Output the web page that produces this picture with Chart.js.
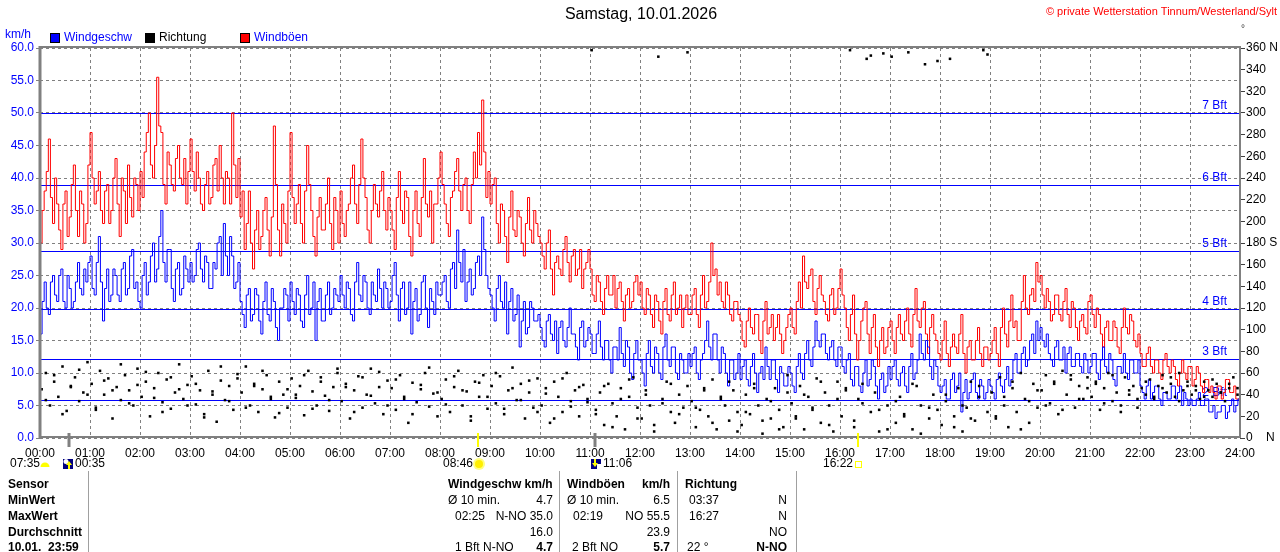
<!DOCTYPE html>
<html>
<head>
<meta charset="utf-8">
<title>Wind 10.01.2026</title>
<script src="https://cdn.jsdelivr.net/npm/chart.js@4.4.1/dist/chart.umd.min.js"></script>
<style>
    html, body { margin: 0; padding: 0; background: #fff; }
    canvas { display: block; }
</style>
</head>
<body>
<canvas id="windChart" width="1280" height="552"></canvas>
<script>
const FONT = '"Liberation Sans", Arial, sans-serif';

// one value every 5 minutes, 00:00 .. 24:00 (km/h)
const stepMinutes = 5;

const windSpeed = [
    16, 24, 19, 25, 21, 26, 20, 23, 21, 27, 22, 24,
    28, 22, 31, 18, 26, 22, 25, 21, 27, 23, 29, 24,
    20, 27, 24, 30, 26, 35, 24, 29, 21, 27, 23, 26,
    27, 25, 30, 24, 27, 23, 26, 31, 33, 25, 28, 24,
    21, 17, 23, 19, 22, 16, 24, 18, 21, 15, 20, 22,
    24, 19, 22, 17, 25, 20, 15, 23, 18, 24, 20, 22,
    25, 20, 23, 18, 27, 21, 24, 19, 22, 26, 20, 23,
    21, 27, 18, 24, 20, 16, 23, 19, 25, 17, 21, 24,
    22, 25, 20, 27, 32, 24, 21, 26, 23, 28, 34, 25,
    22, 18, 25, 20, 16, 23, 19, 14, 21, 17, 20, 18,
    17, 14, 19, 15, 13, 18, 14, 20, 16, 12, 18, 15,
    16, 13, 18, 12, 15, 10, 14, 17, 11, 14, 9, 15,
    12, 8, 15, 10, 13, 9, 16, 11, 14, 9, 12, 10,
    11, 14, 9, 13, 18, 12, 16, 10, 13, 8, 12, 10,
    9, 12, 8, 13, 7, 11, 14, 9, 12, 7, 10, 8,
    10, 7, 13, 9, 15, 11, 18, 14, 16, 12, 15, 11,
    14, 10, 13, 8, 11, 7, 12, 9, 11, 6, 10, 8,
    9, 12, 8, 11, 7, 13, 10, 16, 12, 14, 9, 11,
    7, 9, 6, 10, 8, 4, 9, 7, 10, 6, 8, 7,
    8, 6, 10, 7, 11, 9, 13, 10, 14, 12, 16, 18,
    17, 14, 13, 11, 15, 12, 10, 14, 11, 13, 10, 12,
    11, 13, 9, 14, 10, 12, 8, 11, 13, 9, 12, 10,
    8, 6, 9, 7, 8, 5, 7, 6, 8, 7, 5, 6,
    6, 5, 7, 5, 6, 4, 3, 4, 5, 4, 6, 5,
    4
];

// in-between readings, 2.5 minutes after each value above
const windSpeedMid = [
    21, 20, 24, 22, 25, 21, 25, 20, 24, 23, 26, 27,
    23, 27, 24, 23, 21, 26, 22, 26, 22, 28, 23, 21,
    25, 22, 28, 24, 31, 27, 29, 23, 26, 22, 28, 24,
    24, 29, 26, 28, 23, 27, 30, 25, 28, 31, 23, 27,
    19, 22, 18, 23, 18, 21, 19, 23, 17, 20, 23, 18,
    21, 23, 18, 22, 19, 24, 21, 18, 22, 19, 23, 21,
    22, 24, 19, 24, 22, 25, 20, 24, 21, 23, 24, 20,
    25, 22, 23, 19, 24, 21, 18, 24, 20, 23, 19, 22,
    24, 21, 26, 23, 27, 29, 24, 22, 27, 25, 29, 23,
    20, 23, 21, 24, 21, 18, 22, 18, 16, 21, 18, 19,
    15, 18, 16, 18, 17, 15, 17, 16, 14, 17, 14, 17,
    13, 16, 14, 15, 12, 14, 12, 13, 15, 10, 13, 12,
    10, 13, 11, 14, 10, 14, 12, 14, 10, 13, 10, 13,
    13, 10, 12, 15, 14, 16, 12, 14, 10, 12, 9, 13,
    11, 9, 11, 10, 10, 9, 11, 12, 9, 11, 8, 11,
    8, 11, 10, 13, 12, 14, 15, 16, 13, 14, 12, 14,
    11, 12, 9, 11, 8, 10, 8, 12, 8, 9, 7, 11,
    11, 9, 10, 8, 11, 9, 12, 13, 15, 11, 12, 8,
    8, 6, 9, 7, 10, 7, 6, 9, 7, 9, 6, 9,
    7, 9, 8, 9, 8, 12, 10, 13, 11, 15, 13, 15,
    15, 16, 12, 14, 12, 14, 13, 11, 13, 11, 13, 10,
    13, 10, 12, 11, 13, 9, 11, 10, 10, 12, 10, 12,
    7, 8, 6, 8, 6, 7, 6, 8, 6, 8, 7, 5,
    5, 6, 5, 6, 4, 5, 4, 5, 3, 5, 4, 6
];

const windGusts = [
    30, 38, 46, 33, 36, 29, 38, 34, 42, 31, 36, 33,
    47, 36, 41, 33, 39, 35, 43, 31, 38, 42, 34, 39,
    41, 44, 50, 40, 55.5, 47, 36, 42, 38, 45, 39, 36,
    46, 38, 40, 35, 41, 37, 43, 45, 36, 40, 50, 37,
    34, 29, 38, 26, 35, 31, 37, 28, 48, 32, 36, 30,
    47, 33, 39, 30, 45, 35, 28, 37, 32, 40, 29, 35,
    38, 31, 36, 42, 33, 46, 37, 30, 39, 34, 41, 32,
    35, 29, 41, 33, 37, 28, 38, 31, 43, 34, 30, 36,
    44, 36, 31, 38, 43, 35, 40, 33, 44, 47, 52, 37,
    36, 40, 30, 35, 27, 38, 31, 34, 28, 37, 30, 33,
    30, 26, 32, 22, 28, 25, 31, 24, 29, 26, 23, 27,
    26, 21, 24, 19, 25, 22, 20, 24, 18, 23, 21, 25,
    24, 19, 22, 17, 21, 16, 23, 18, 24, 20, 17, 22,
    19, 23, 17, 25, 21, 30, 26, 24, 20, 22, 18, 21,
    18, 14, 20, 16, 19, 13, 21, 17, 15, 19, 13, 17,
    20, 16, 24, 28, 23, 26, 19, 25, 21, 18, 23, 20,
    26, 20, 15, 22, 12, 18, 21, 13, 19, 11, 17, 14,
    18, 13, 19, 15, 20, 14, 23, 17, 21, 13, 19, 15,
    12, 18, 11, 16, 13, 19, 10, 15, 12, 17, 11, 14,
    13, 17, 11, 20, 14, 22, 18, 15, 25, 19, 23, 27,
    25, 20, 21, 19, 22, 18, 23, 17, 20, 15, 19, 16,
    22, 17, 19, 14, 18, 15, 17, 13, 20, 16, 18, 14,
    13, 11, 14, 10, 12, 9, 13, 10, 11, 8, 12, 9,
    11, 9, 10, 7, 9, 8, 6, 8, 7, 9, 7, 6,
    5
];

const windGustsMid = [
    35, 41, 37, 40, 32, 36, 31, 39, 35, 38, 30, 42,
    40, 38, 35, 38, 33, 40, 36, 40, 33, 37, 40, 35,
    37, 47, 42, 45, 48, 39, 44, 39, 43, 40, 43, 41,
    41, 44, 36, 39, 36, 42, 38, 40, 41, 36, 42, 43,
    38, 33, 30, 32, 29, 35, 32, 34, 39, 28, 33, 38,
    37, 36, 33, 38, 39, 31, 34, 32, 36, 33, 37, 30,
    33, 35, 40, 36, 39, 40, 32, 35, 36, 38, 35, 37,
    32, 37, 35, 38, 31, 35, 33, 37, 36, 38, 36, 40,
    39, 33, 37, 41, 38, 39, 35, 39, 40, 42, 44, 41,
    39, 33, 36, 31, 34, 32, 35, 30, 33, 32, 35, 31,
    28, 30, 26, 27, 26, 29, 27, 28, 25, 29, 26, 29,
    22, 25, 21, 23, 22, 25, 23, 21, 22, 20, 24, 22,
    20, 23, 19, 22, 18, 21, 19, 22, 19, 22, 20, 19,
    22, 19, 22, 20, 24, 25, 22, 21, 24, 19, 21, 19,
    15, 18, 17, 19, 15, 18, 16, 19, 17, 16, 15, 19,
    17, 21, 20, 24, 25, 21, 23, 22, 19, 22, 19, 23,
    22, 17, 19, 16, 15, 20, 16, 17, 14, 15, 13, 17,
    15, 17, 16, 18, 16, 19, 18, 20, 16, 17, 16, 13,
    15, 13, 14, 14, 16, 13, 14, 12, 15, 13, 14, 12,
    15, 13, 17, 16, 18, 17, 15, 21, 20, 22, 21, 24,
    22, 23, 18, 22, 19, 21, 19, 21, 17, 18, 17, 21,
    19, 20, 16, 17, 15, 18, 14, 17, 17, 19, 15, 16,
    11, 13, 11, 12, 10, 12, 11, 12, 9, 10, 10, 11,
    8, 11, 8, 9, 7, 7, 8, 6, 9, 7, 8, 6
];

// degrees, one dot every 5 minutes (from 00:02)
const windDirection = [
    45, 60, 30, 52, 38, 66, 25, 48, 56, 34, 42, 70,
    50, 28, 62, 40, 55, 18, 47, 35, 58, 44, 30, 64,
    38, 52, 20, 46, 60, 33, 54, 27, 42, 68, 36, 49,
    57, 31, 44, 22, 62, 40, 15, 53, 35, 48, 26, 59,
    42, 66, 30, 50, 24, 45, 58, 36, 19, 52, 40, 28,
    55, 37, 48, 21, 62, 43, 30, 56, 39, 25, 47, 60,
    34, 50, 18, 44, 57, 28, 40, 64, 32, 47, 22, 53,
    46, 26, 58, 38, 14, 51, 33, 45, 60, 29, 41, 20,
    36, 54, 24, 47, 62, 30, 43, 16, 52, 38, 58, 27,
    48, 32, 57, 22, 44, 65, 35, 50, 18, 42, 28, 55,
    30, 46, 14, 52, 38, 24, 60, 34, 44, 20, 49, 36,
    358, 26, 42, 12, 50, 32, 20, 46, 8, 38, 56, 28,
    18, 44, 30, 6, 352, 36, 52, 24, 14, 40, 28, 48,
    34, 10, 26, 46, 20, 54, 8, 38, 30, 16, 44, 24,
    12, 40, 22, 50, 30, 4, 36, 18, 46, 26, 10, 58,
    32, 20, 48, 8, 38, 26, 55, 14, 42, 30, 6, 52,
    20, 44, 358, 10, 36, 50, 350, 24, 42, 6, 355, 30,
    352, 14, 38, 22, 356, 8, 48, 30, 345, 18, 40, 26,
    12, 34, 350, 20, 46, 6, 28, 52, 16, 38, 358, 24,
    42, 18, 56, 30, 10, 46, 24, 60, 36, 14, 50, 28,
    44, 58, 32, 50, 22, 62, 40, 54, 28, 48, 36, 56,
    38, 52, 26, 46, 60, 34, 42, 30, 56, 40, 48, 28,
    46, 40, 54, 36, 48, 58, 42, 50, 38, 60, 44, 52,
    40, 48, 36, 52, 44, 38, 50, 42, 34, 46, 56, 40
];

// degrees, one more dot every 10 minutes (from 00:07)
const windDirectionExtra = [
    35, 58, 22, 47, 63, 40,
    26, 53, 44, 68, 32, 49,
    61, 37, 24, 56, 45, 30,
    50, 19, 43, 66, 34, 55,
    28, 48, 62, 38, 23, 45,
    40, 58, 27, 52, 35, 64,
    47, 24, 56, 39, 61, 30,
    54, 36, 22, 49, 65, 42,
    31, 57, 44, 20, 51, 38,
    60, 27, 46, 35, 53, 24,
    41, 18, 55, 29, 47, 33,
    22, 48, 10, 36, 54, 18,
    40, 12, 32, 50, 22, 356,
    28, 44, 14, 36, 52, 6,
    24, 46, 16, 34, 8, 42,
    18, 40, 28, 52, 12, 36,
    46, 16, 32, 353, 26, 8,
    34, 20, 50, 4, 28, 348,
    40, 10, 30, 18, 48, 354,
    20, 38, 52, 8, 34, 44,
    30, 52, 26, 58, 36, 46,
    50, 32, 58, 24, 44, 36,
    52, 38, 46, 56, 34, 48,
    44, 38, 54, 42, 50, 46
];

// Beaufort limits in km/h
const bftLevels = [5.8, 12.2, 19.8, 28.8, 38.9, 50.0];
const bftLabels = ['2 Bft', '3 Bft', '4 Bft', '5 Bft', '6 Bft', '7 Bft'];

const dirTickNames = {360: '360 N', 180: '180 S', 0: '0    N'};

// sun / moon events in minutes after midnight
const moonRise = 35;     // 00:35
const sunRise = 526;     // 08:46
const moonSet = 666;     // 11:06
const sunSet = 982;      // 16:22

const tableRows = ['Sensor', 'MinWert', 'MaxWert', 'Durchschnitt', '10.01.  23:59'];

function padTo2Digits(num) {
    return num.toString().padStart(2, '0');
}

function toPoints(values, step, offset) {
    return values.map((v, i) => ({x: i * step + offset, y: v}));
}

// merge the full readings with the in-between readings, sorted by time
function mergeSeries(main, mid) {
    const pts = toPoints(main, stepMinutes, 0).concat(toPoints(mid, stepMinutes, stepMinutes / 2));
    return pts.sort((a, b) => a.x - b.x);
}

const decorPlugin = {
    id: 'decor',
    beforeDatasetsDraw(chart) {
        const ctx = chart.ctx;
        const a = chart.chartArea;
        const y = chart.scales.y;
        ctx.save();
        ctx.strokeStyle = '#0000ff';
        ctx.fillStyle = '#0000ff';
        ctx.lineWidth = 1;
        ctx.font = '12px ' + FONT;
        ctx.textAlign = 'right';
        ctx.textBaseline = 'bottom';
        bftLevels.forEach((v, i) => {
            const py = Math.round(y.getPixelForValue(v)) + 0.5;
            ctx.beginPath();
            ctx.moveTo(a.left, py);
            ctx.lineTo(a.right, py);
            ctx.stroke();
            ctx.fillText(bftLabels[i], a.right - 13, py - 2);
        });
        ctx.restore();
    },
    afterDraw(chart) {
        const ctx = chart.ctx;
        const a = chart.chartArea;
        const x = chart.scales.x;
        ctx.save();

        // frame
        ctx.strokeStyle = '#808080';
        ctx.lineWidth = 2;
        ctx.strokeRect(a.left, a.top - 1, a.right - a.left, a.bottom - a.top);
        ctx.lineWidth = 3;
        ctx.beginPath();
        ctx.moveTo(a.left, a.top - 2);
        ctx.lineTo(a.left, a.bottom);
        ctx.stroke();

        // title + copyright
        ctx.textBaseline = 'middle';
        ctx.fillStyle = '#000';
        ctx.font = '16px ' + FONT;
        ctx.textAlign = 'center';
        ctx.fillText('Samstag, 10.01.2026', 641, 15);
        ctx.fillStyle = '#ff0000';
        ctx.font = '11px ' + FONT;
        ctx.textAlign = 'right';
        ctx.fillText('\u00a9 private Wetterstation Tinnum/Westerland/Sylt', 1277, 12);
        ctx.fillStyle = '#404040';
        ctx.font = '10px ' + FONT;
        ctx.textAlign = 'left';
        ctx.fillText('\u00b0', 1241, 29);

        // legend
        ctx.font = '12px ' + FONT;
        ctx.fillStyle = '#0000ff';
        ctx.fillText('km/h', 5, 35);
        const legend = [
            [50, '#0000ff', 'Windgeschw', '#0000ff'],
            [145, '#000000', 'Richtung', '#000000'],
            [240, '#ff0000', 'Windb\u00f6en', '#0000ff']
        ];
        legend.forEach(l => {
            ctx.fillStyle = l[1];
            ctx.fillRect(l[0], 33, 10, 10);
            ctx.strokeStyle = '#000';
            ctx.lineWidth = 1;
            ctx.strokeRect(l[0] + 0.5, 33.5, 9, 9);
            ctx.fillStyle = l[3];
            ctx.fillText(l[2], l[0] + 14, 38);
        });

        // sun / moon ticks on the time axis
        const marks = [[moonRise, '#808080'], [sunRise, '#ffff00'], [moonSet, '#808080'], [sunSet, '#ffff00']];
        marks.forEach(m => {
            const px = Math.round(x.getPixelForValue(m[0]));
            ctx.strokeStyle = m[1];
            ctx.lineWidth = m[1] === '#808080' ? 3 : 2;
            ctx.beginPath();
            ctx.moveTo(px, 433);
            ctx.lineTo(px, 447);
            ctx.stroke();
        });

        ctx.font = '12px ' + FONT;
        ctx.fillStyle = '#000';
        ctx.textAlign = 'left';
        ctx.fillText('07:35', 10, 464);
        // small yellow half sun
        ctx.fillStyle = '#ffff00';
        ctx.beginPath();
        ctx.arc(45, 467, 4.5, Math.PI, 0);
        ctx.fill();

        const mr = Math.round(x.getPixelForValue(moonRise));
        ctx.fillStyle = '#000080';
        ctx.fillRect(mr - 6, 459, 10, 10);
        ctx.fillStyle = '#ffffff';
        ctx.beginPath();
        ctx.arc(mr - 3, 461.5, 2.5, 0, Math.PI * 2);
        ctx.fill();
        ctx.fillStyle = '#ffff00';
        ctx.fillRect(mr - 1, 464, 2, 5);
        ctx.beginPath();
        ctx.moveTo(mr - 3, 465);
        ctx.lineTo(mr, 461);
        ctx.lineTo(mr + 3, 465);
        ctx.fill();
        ctx.fillStyle = '#000';
        ctx.fillText('00:35', mr + 6, 464);

        const sr = Math.round(x.getPixelForValue(sunRise));
        ctx.textAlign = 'right';
        ctx.fillText('08:46', sr - 5, 464);
        ctx.fillStyle = '#ffff80';
        ctx.beginPath();
        ctx.arc(sr + 1, 464, 6, 0, Math.PI * 2);
        ctx.fill();
        ctx.fillStyle = '#ffee00';
        ctx.beginPath();
        ctx.arc(sr + 1, 464, 4, 0, Math.PI * 2);
        ctx.fill();

        const ms = Math.round(x.getPixelForValue(moonSet));
        ctx.fillStyle = '#000080';
        ctx.fillRect(ms - 4, 459, 10, 10);
        ctx.fillStyle = '#ffffff';
        ctx.fillRect(ms + 2, 464, 4, 5);
        ctx.fillStyle = '#ffff00';
        ctx.fillRect(ms - 1, 459, 2, 5);
        ctx.beginPath();
        ctx.moveTo(ms - 3, 463);
        ctx.lineTo(ms, 467);
        ctx.lineTo(ms + 3, 463);
        ctx.fill();
        ctx.fillStyle = '#000';
        ctx.textAlign = 'left';
        ctx.fillText('11:06', ms + 8, 464);

        const ss = Math.round(x.getPixelForValue(sunSet));
        ctx.textAlign = 'right';
        ctx.fillText('16:22', ss - 5, 464);
        ctx.strokeStyle = '#ffff00';
        ctx.lineWidth = 1;
        ctx.strokeRect(ss - 2.5, 461.5, 6, 6);

        // statistics table
        ctx.strokeStyle = '#a0a0a0';
        ctx.lineWidth = 1;
        [88.5, 559.5, 677.5, 796.5].forEach(lx => {
            ctx.beginPath();
            ctx.moveTo(lx, 471);
            ctx.lineTo(lx, 552);
            ctx.stroke();
        });

        const rowY = [485, 501, 517, 533, 548];
        ctx.fillStyle = '#000';
        ctx.textAlign = 'left';
        ctx.font = 'bold 12px ' + FONT;
        tableRows.forEach((t, i) => ctx.fillText(t, 8, rowY[i]));

        const cells = [
            // [text, x, align, bold, row]
            ['Windgeschw km/h', 448, 'left', true, 0],
            ['\u00d8 10 min.', 448, 'left', false, 1],
            ['4.7', 553, 'right', false, 1],
            ['02:25', 455, 'left', false, 2],
            ['N-NO 35.0', 553, 'right', false, 2],
            ['16.0', 553, 'right', false, 3],
            ['1 Bft N-NO', 455, 'left', false, 4],
            ['4.7', 553, 'right', true, 4],
            ['Windb\u00f6en', 567, 'left', true, 0],
            ['km/h', 670, 'right', true, 0],
            ['\u00d8 10 min.', 567, 'left', false, 1],
            ['6.5', 670, 'right', false, 1],
            ['02:19', 573, 'left', false, 2],
            ['NO 55.5', 670, 'right', false, 2],
            ['23.9', 670, 'right', false, 3],
            ['2 Bft NO', 572, 'left', false, 4],
            ['5.7', 670, 'right', true, 4],
            ['Richtung', 685, 'left', true, 0],
            ['03:37', 689, 'left', false, 1],
            ['N', 787, 'right', false, 1],
            ['16:27', 689, 'left', false, 2],
            ['N', 787, 'right', false, 2],
            ['NO', 787, 'right', false, 3],
            ['22 \u00b0', 687, 'left', false, 4],
            ['N-NO', 787, 'right', true, 4]
        ];
        cells.forEach(c => {
            ctx.font = (c[3] ? 'bold ' : '') + '12px ' + FONT;
            ctx.textAlign = c[2];
            ctx.fillText(c[0], c[1], rowY[c[4]]);
        });

        ctx.restore();
    }
};

const dotStyle = {
    type: 'scatter',
    yAxisID: 'y2',
    pointStyle: 'rect',
    pointRadius: 1.8,
    pointBorderWidth: 0,
    backgroundColor: '#000000',
    borderColor: '#000000',
    showLine: false,
    order: 0
};

const ctxWind = document.getElementById('windChart').getContext('2d');

const windChart = new Chart(ctxWind, {
    type: 'line',
    data: {
        datasets: [
            Object.assign({label: 'Richtung', data: toPoints(windDirection, 5, 2)}, dotStyle),
            Object.assign({label: 'Richtung2', data: toPoints(windDirectionExtra, 10, 7)}, dotStyle),
            {
                label: 'Windgeschw',
                data: mergeSeries(windSpeed, windSpeedMid),
                yAxisID: 'y',
                borderColor: '#0000ff',
                borderWidth: 1,
                pointRadius: 0,
                stepped: true,
                fill: false,
                order: 1
            },
            {
                label: 'Windböen',
                data: mergeSeries(windGusts, windGustsMid),
                yAxisID: 'y',
                borderColor: '#ff0000',
                borderWidth: 1,
                pointRadius: 0,
                stepped: true,
                fill: false,
                order: 2
            }
        ]
    },
    options: {
        responsive: false,
        animation: false,
        devicePixelRatio: 1,
        layout: {padding: {top: 48, left: 0, right: 0, bottom: 0}},
        plugins: {
            legend: {display: false},
            tooltip: {enabled: false}
        },
        scales: {
            x: {
                type: 'linear',
                min: 0,
                max: 1440,
                afterFit(scale) { scale.height = 114; },
                ticks: {
                    stepSize: 60,
                    autoSkip: false,
                    maxRotation: 0,
                    color: '#000',
                    padding: 8,
                    font: {family: FONT, size: 12},
                    callback: v => padTo2Digits(v / 60) + ':00'
                },
                grid: {color: '#808080', drawTicks: false},
                border: {display: false, dash: [3, 3]}
            },
            y: {
                position: 'left',
                min: 0,
                max: 60,
                afterFit(scale) { scale.width = 40; },
                ticks: {
                    stepSize: 5,
                    color: '#0000ff',
                    padding: 2,
                    font: {family: FONT, size: 12},
                    callback: v => v.toFixed(1)
                },
                grid: {color: '#808080', tickLength: 4, tickColor: '#808080'},
                border: {display: false, dash: [3, 3]}
            },
            y2: {
                position: 'right',
                min: 0,
                max: 360,
                afterFit(scale) { scale.width = 40; },
                ticks: {
                    stepSize: 20,
                    color: '#000',
                    padding: 1,
                    font: {family: FONT, size: 12},
                    callback: v => dirTickNames[v] || String(v)
                },
                grid: {drawOnChartArea: false, tickLength: 5, tickColor: '#404040'},
                border: {display: false}
            }
        }
    },
    plugins: [decorPlugin]
});
</script>
</body>
</html>
